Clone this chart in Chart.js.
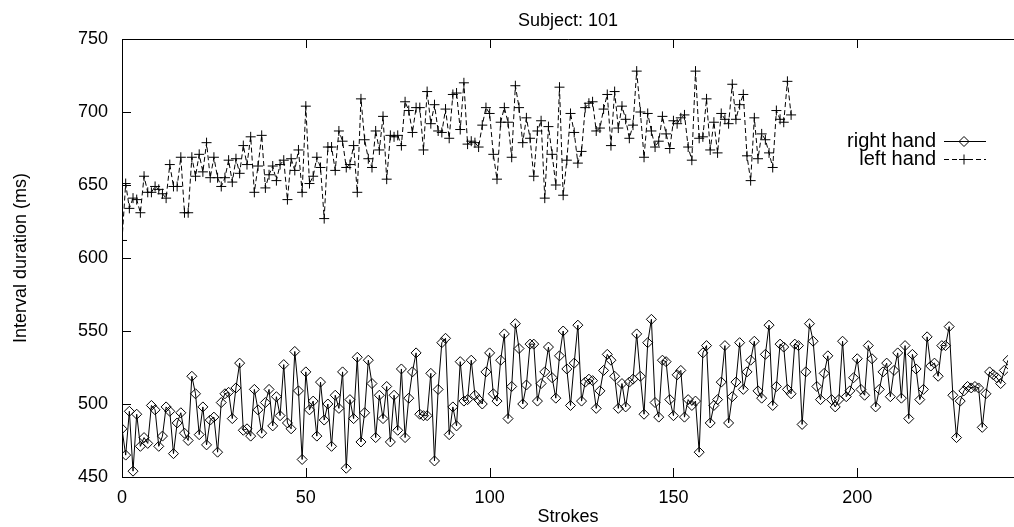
<!DOCTYPE html>
<html>
<head>
<meta charset="utf-8">
<script src="https://cdn.jsdelivr.net/npm/chart.js@4"></script>
<style>
  html, body { margin: 0; padding: 0; background: #fff; }
  canvas { display: block; }
</style>
</head>
<body>
<canvas id="c" width="1014" height="527"></canvas>
<script>
const titleText = "Subject: 101";
const xTitle = "Strokes";
const yTitle = "Interval duration (ms)";
const seriesNames = ["right hand", "left hand"];
const xTickValues = [0, 50, 100, 150, 200];
const yTickValues = [450, 500, 550, 600, 650, 700, 750];

const rightHand = [
  483,465,495,454,493,471,477,473,499,496, 471,478,498,495,466,487,494,480,475,519,
  507,479,498,472,489,491,467,501,507,508, 490,511,528,482,483,478,510,496,480,501,
  510,485,
  505,492,527,487,483,536,509,462,522,496, 502,478,515,489,500,471,506,497,522,456,
  503,490,532,474,494,530,514,477,506,490, 512,474,506,482,524,477,504,522,535,493,
  492,492,
  521,461,510,542,545,479,498,485,529,502, 503,530,506,503,500,522,535,507,502,530,
  548,490,512,555,538,500,513,541,541,502, 514,522,539,518,504,533,550,524,499,528,
  554,502,
  515,517,516,497,509,523,534,530,519,497, 514,498,515,517,548,519,493,542,558,501,
  491,530,529,503,492,520,523,491,503,499, 502,467,535,540,487,499,503,515,540,487,
  505,515,
  542,510,522,530,543,509,504,534,554,499, 512,541,539,510,507,541,540,486,522,555,
  543,512,503,521,533,503,498,503,543,505, 509,518,531,510,506,540,531,498,510,522,
  528,505,
  523,535,504,540,490,534,524,503,510,546, 526,528,519,540,540,553,506,477,502,509,
  512,511,512,511,484,507,522,520,518,514, 523,530
];

const leftHand = [
  612,651,634,641,640,631,656,645,645,649, 647,644,641,664,649,649,669,631,631,669,
  656,671,659,679,655,669,655,649,655,667, 652,668,658,677,664,683,645,663,684,648,
  657,663,653,664,667,640,
  668,660,674,645,704,651,656,669,662,627, 676,676,660,687,680,662,664,677,645,709,
  681,668,662,687,674,697,654,684,683,684, 677,707,701,686,703,703,674,714,692,705,
  687,686,702,682,712,713,
  688,720,678,680,679,676,691,703,699,671, 654,693,703,693,669,718,703,679,696,682,
  656,687,694,641,690,671,650,717,643,667, 699,686,665,673,703,706,707,687,689,702,
  712,677,714,689,704,695,
  682,691,728,700,669,699,687,676,680,697, 685,675,694,692,696,698,676,667,728,682,
  683,709,674,693,672,699,695,692,719,695, 705,712,670,653,696,668,685,681,672,662,
  701,695,693,721,698
];

const FONT = '"Liberation Sans", Arial, Helvetica, sans-serif';
const FS = 18;
const LEGEND_FS = 20;

const toPoints = arr => arr.map((v, i) => ({ x: i, y: v }));

const framePlugin = {
  id: 'frame',
  afterDraw(chart) {
    const { ctx, chartArea: a, scales } = chart;
    const xs = scales.x, ys = scales.y;
    ctx.save();
    ctx.strokeStyle = '#000';
    ctx.lineWidth = 1;
    ctx.beginPath();
    ctx.moveTo(a.left + 0.5, a.bottom + 0.5);
    ctx.lineTo(a.left + 0.5, a.top + 0.5);
    ctx.lineTo(chart.width, a.top + 0.5);
    ctx.moveTo(a.left, a.bottom + 0.5);
    ctx.lineTo(chart.width, a.bottom + 0.5);
    // inward ticks
    yTickValues.forEach(v => {
      const y = Math.round(ys.getPixelForValue(v)) + 0.5;
      ctx.moveTo(a.left, y);
      ctx.lineTo(a.left + 9, y);
    });
    xTickValues.forEach(v => {
      const x = Math.round(xs.getPixelForValue(v)) + 0.5;
      ctx.moveTo(x, a.bottom);
      ctx.lineTo(x, a.bottom - 9);
      ctx.moveTo(x, a.top);
      ctx.lineTo(x, a.top + 9);
    });
    ctx.stroke();

    // titles
    ctx.fillStyle = '#000';
    ctx.font = FS + 'px ' + FONT;
    ctx.textAlign = 'center';
    ctx.textBaseline = 'middle';
    const cx = (a.left + chart.width) / 2;
    ctx.fillText(titleText, cx, 21);
    ctx.fillText(xTitle, cx, 517);
    ctx.save();
    ctx.translate(21, (a.top + a.bottom) / 2);
    ctx.rotate(-Math.PI / 2);
    ctx.fillText(yTitle, 0, 0);
    ctx.restore();

    // legend
    const rows = [141, 159];
    ctx.font = LEGEND_FS + 'px ' + FONT;
    chart.data.datasets.forEach((ds, k) => {
      const y = rows[k];
      ctx.textAlign = 'right';
      ctx.fillStyle = '#000';
      ctx.fillText(ds.label, 936, y);
      ctx.beginPath();
      ctx.setLineDash(ds.borderDash || []);
      ctx.lineWidth = 1;
      ctx.strokeStyle = '#000';
      ctx.moveTo(944, y + 0.5);
      ctx.lineTo(986, y + 0.5);
      ctx.stroke();
      ctx.setLineDash([]);
      ctx.fillStyle = 'rgba(0,0,0,0)';
      Chart.helpers.drawPoint(ctx, {
        pointStyle: ds.pointStyle, radius: ds.pointRadius, borderWidth: 1, rotation: 0
      }, 964, y + 0.5);
    });
    ctx.restore();
  }
};

new Chart(document.getElementById('c'), {
  type: 'line',
  data: {
    datasets: [
      {
        label: seriesNames[0],
        data: toPoints(rightHand),
        borderColor: '#000',
        borderWidth: 1,
        pointStyle: 'rectRot',
        pointRadius: 5,
        pointBorderColor: '#000',
        pointBackgroundColor: 'rgba(0,0,0,0)',
        pointBorderWidth: 1,
        tension: 0
      },
      {
        label: seriesNames[1],
        data: toPoints(leftHand),
        borderColor: '#000',
        borderWidth: 1,
        borderDash: [5, 3],
        pointStyle: 'cross',
        pointRadius: 5,
        pointBorderColor: '#000',
        pointBorderWidth: 1,
        tension: 0
      }
    ]
  },
  options: {
    responsive: false,
    animation: false,
    devicePixelRatio: 1,
    layout: { padding: { top: 39, left: 0, right: 0, bottom: 0 } },
    plugins: {
      legend: { display: false },
      title: { display: false },
      tooltip: { enabled: false }
    },
    scales: {
      x: {
        type: 'linear',
        min: 0,
        max: 241,
        grid: { display: false },
        border: { display: false },
        ticks: {
          stepSize: 50,
          includeBounds: false,
          color: '#000',
          font: { family: FONT, size: FS },
          padding: 2,
          maxRotation: 0
        },
        afterFit(scale) { scale.height = 50; }
      },
      y: {
        min: 450,
        max: 750,
        grid: { display: false },
        border: { display: false },
        ticks: {
          stepSize: 50,
          color: '#000',
          font: { family: FONT, size: FS },
          padding: 6
        },
        afterFit(scale) { scale.width = 122; }
      }
    }
  },
  plugins: [framePlugin]
});
</script>
</body>
</html>
